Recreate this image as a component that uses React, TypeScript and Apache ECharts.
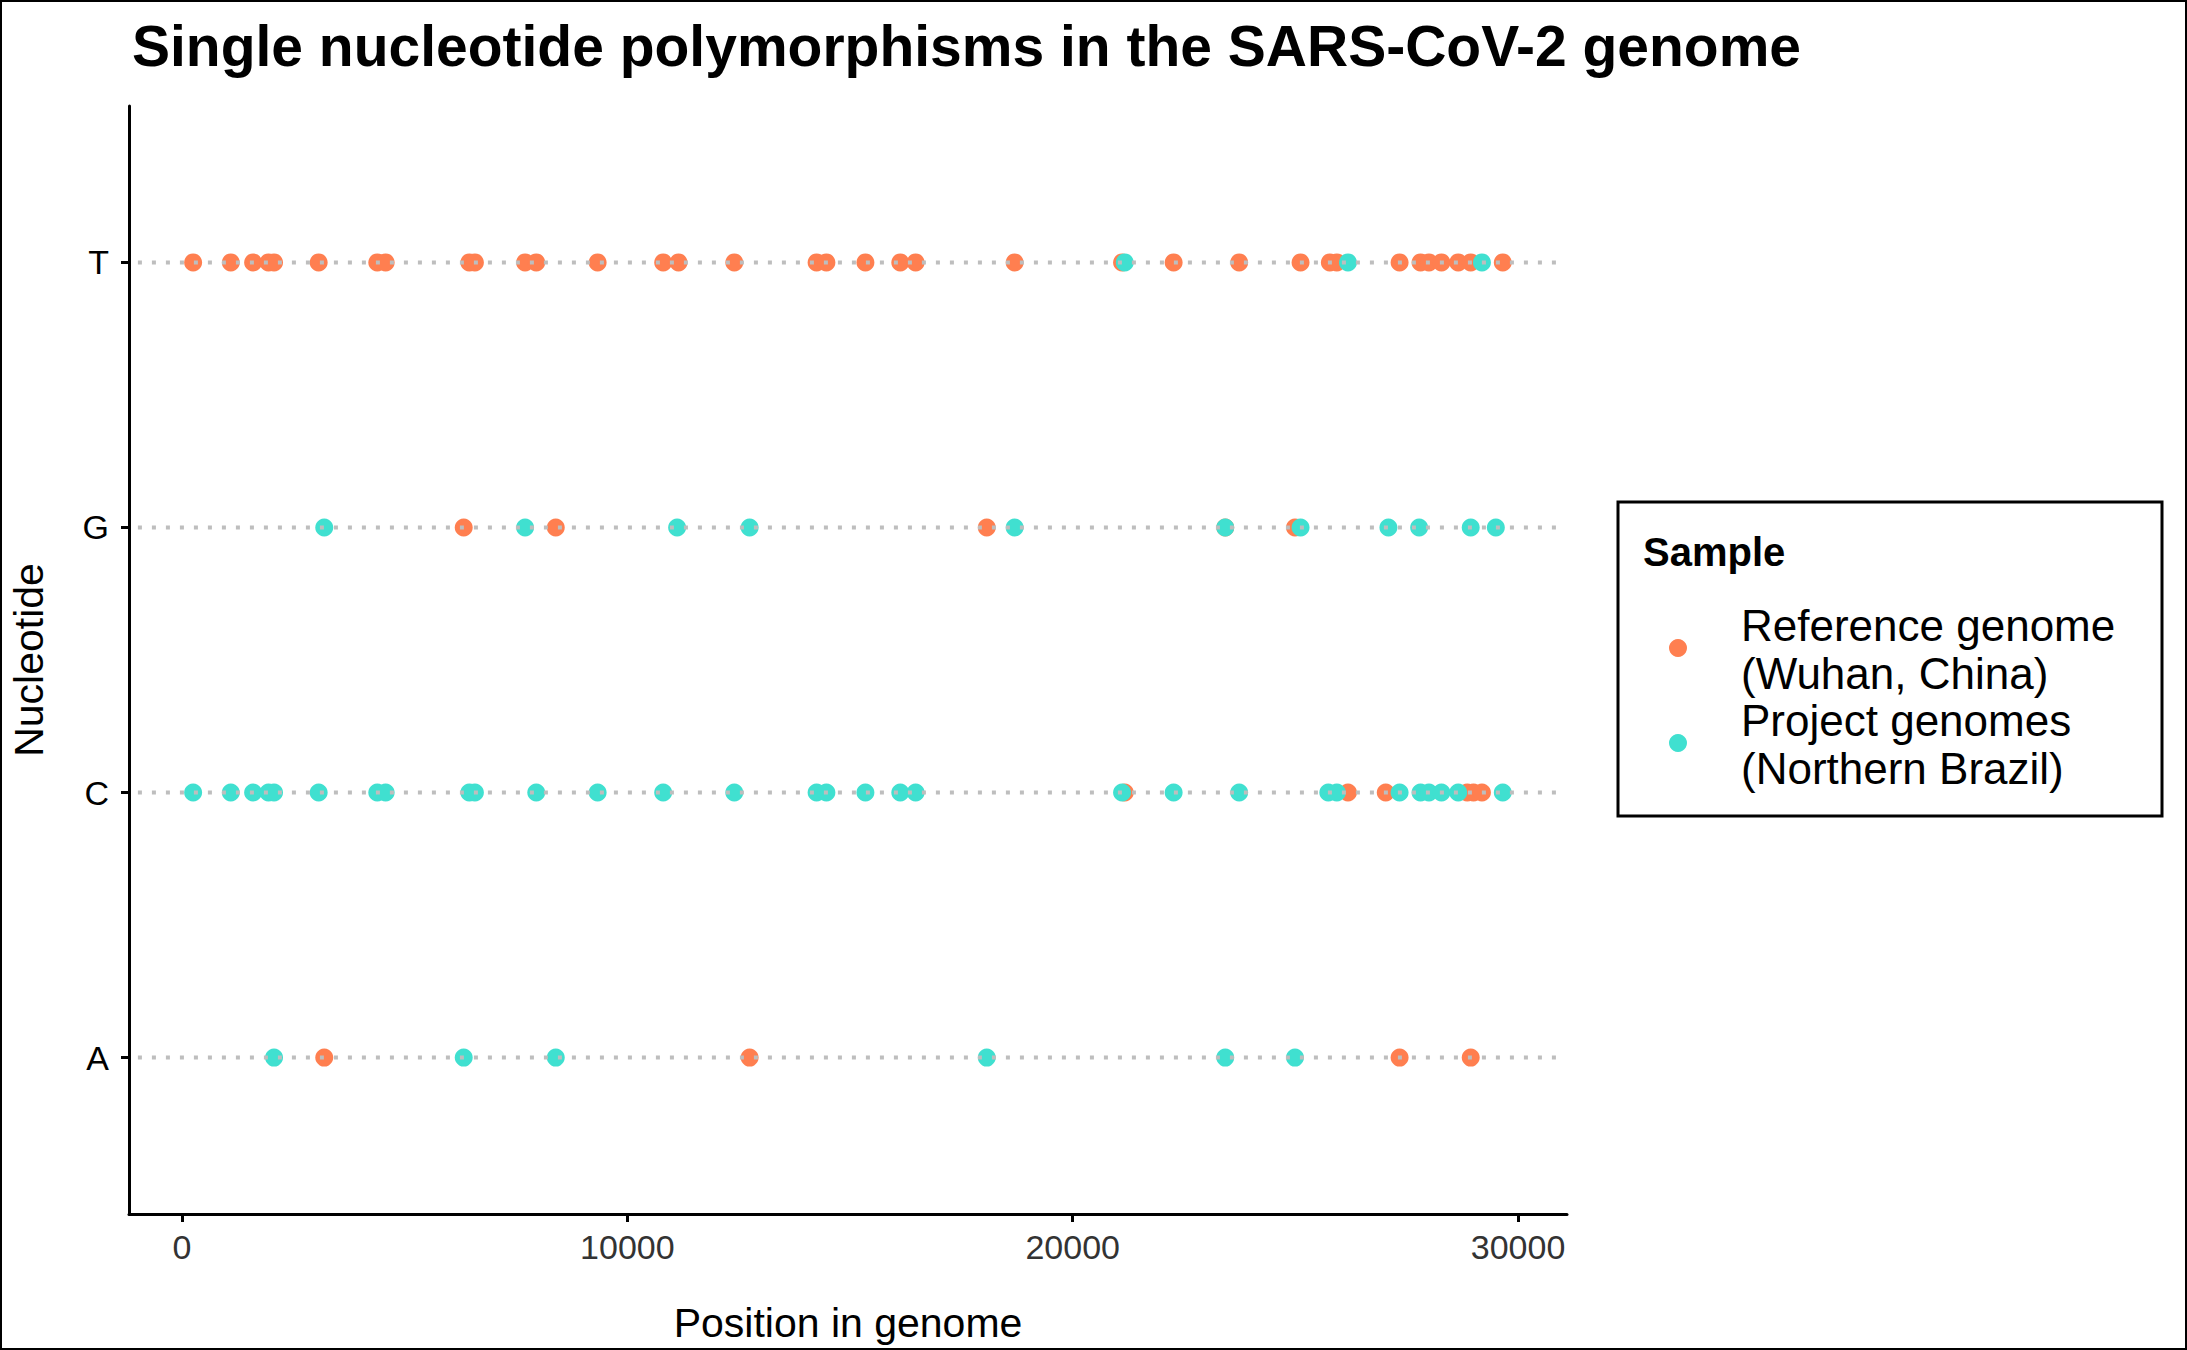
import { useEffect, useRef } from 'react';
import * as echarts from 'echarts';

const nucleotides = ['A', 'C', 'G', 'T'];
const xTicks = [0, 10000, 20000, 30000];

// reference genome (Wuhan) SNP positions per nucleotide
const refT = [250, 1096, 1597, 1942, 2067, 3069, 4385, 4573, 6452, 6577, 7704, 7955, 9333, 10805, 11150, 12402, 14250, 14470, 15346, 16129, 16474, 18697, 21109, 22267, 23739, 25117, 25775, 25932, 27341, 27811, 28000, 28281, 28657, 28938, 29658];
const refG = [6326, 8393, 18071, 23426, 24992];
const refC = [21170, 26182, 27030, 28860, 29000, 29190];
const refA = [3194, 12746, 27341, 28938];

// project genomes (Northern Brazil)
const projT = [21170, 26182, 29190];
const projG = [3194, 7704, 11118, 12746, 18697, 23426, 25117, 27090, 27780, 28938, 29502];
const projC = [250, 1096, 1597, 1942, 2067, 3069, 4385, 4573, 6452, 6577, 7955, 9333, 10805, 12402, 14250, 14470, 15346, 16129, 16474, 21109, 22267, 23739, 25740, 25932, 27341, 27811, 28000, 28281, 28657, 29658];
const projA = [2067, 6326, 8393, 18071, 23426, 24992];

const REF_COLOR = '#FF7F50';
const PROJ_COLOR = '#40E0D0';

const toPoints = (rows: number[][]) =>
  rows.flatMap((row, i) => row.map((x) => [x, i]));

export default function App() {
  const ref = useRef<HTMLDivElement>(null);

  useEffect(() => {
    if (!ref.current) return;
    const chart = echarts.init(ref.current, null, { renderer: 'svg' });
    const font = 'Liberation Sans, Arial, sans-serif';
    const xMin = -1190;
    const xMax = 31100;

    chart.setOption({
      animation: false,
      textStyle: { fontFamily: font },
      title: {
        text: 'Single nucleotide polymorphisms in the SARS-CoV-2 genome',
        left: 127,
        top: 12,
        textStyle: { fontSize: 57, fontWeight: 'bold', color: '#000', fontFamily: font },
      },
      grid: { left: 128, right: 2187 - 1567, top: 106, bottom: 1350 - 1214 },
      xAxis: {
        type: 'value',
        min: xMin,
        max: xMax,
        name: 'Position in genome',
        nameLocation: 'middle',
        nameGap: 88,
        nameTextStyle: { fontSize: 41, color: '#000', fontFamily: font },
        axisLine: { show: true, onZero: false, lineStyle: { color: '#000', width: 3 } },
        axisTick: { show: true, customValues: xTicks, length: 8, lineStyle: { color: '#000', width: 3 } },
        axisLabel: { customValues: xTicks, fontSize: 34, color: '#333', margin: 16, formatter: (v: number) => String(v) },
        splitLine: { show: false },
      },
      yAxis: {
        type: 'value',
        min: -0.59,
        max: 3.59,
        name: 'Nucleotide',
        nameLocation: 'middle',
        nameGap: 80,
        nameTextStyle: { fontSize: 41, color: '#000', fontFamily: font },
        axisLine: { show: true, onZero: false, lineStyle: { color: '#000', width: 3 } },
        axisTick: { show: true, customValues: [0, 1, 2, 3], length: 8, lineStyle: { color: '#000', width: 3 } },
        axisLabel: {
          customValues: [0, 1, 2, 3],
          fontSize: 34,
          color: '#000',
          margin: 20,
          formatter: (v: number) => nucleotides[Math.round(v)] ?? '',
        },
        splitLine: { show: false },
      },
      series: [
        ...nucleotides.map((_, i) => ({
          type: 'line',
          silent: true,
          symbol: 'none',
          data: [[xMin + 200, i], [xMax - 200, i]],
          lineStyle: { color: '#bebebe', width: 4, type: [4, 10] },
        })),
        {
          name: 'Reference',
          type: 'scatter',
          symbolSize: 18,
          itemStyle: { color: REF_COLOR, opacity: 1 },
          data: toPoints([refA, refC, refG, refT]),
        },
        {
          name: 'Project',
          type: 'scatter',
          symbolSize: 18,
          itemStyle: { color: PROJ_COLOR, opacity: 1 },
          data: toPoints([projA, projC, projG, projT]),
        },
      ],
      graphic: [
        { type: 'rect', shape: { x: 1, y: 1, width: 2185, height: 1348 }, style: { fill: 'none', stroke: '#000', lineWidth: 2 } },
        { type: 'rect', shape: { x: 1618, y: 502, width: 544, height: 314 }, style: { fill: '#fff', stroke: '#000', lineWidth: 3 } },
        { type: 'text', x: 1643, y: 532, style: { text: 'Sample', font: `bold 40px ${font}`, fill: '#000' } },
        { type: 'circle', shape: { cx: 1678, cy: 648, r: 9 }, style: { fill: REF_COLOR } },
        { type: 'circle', shape: { cx: 1678, cy: 743, r: 9 }, style: { fill: PROJ_COLOR } },
        { type: 'text', x: 1741, y: 601, style: { text: 'Reference genome\n(Wuhan, China)', font: `44px ${font}`, lineHeight: 48, fill: '#000' } },
        { type: 'text', x: 1741, y: 696, style: { text: 'Project genomes\n(Northern Brazil)', font: `44px ${font}`, lineHeight: 48, fill: '#000' } },
      ],
    });
    return () => chart.dispose();
  }, []);

  return <div ref={ref} style={{ position: 'absolute', left: 0, top: 0, width: 2187, height: 1350, background: '#fff' }} />;
}
